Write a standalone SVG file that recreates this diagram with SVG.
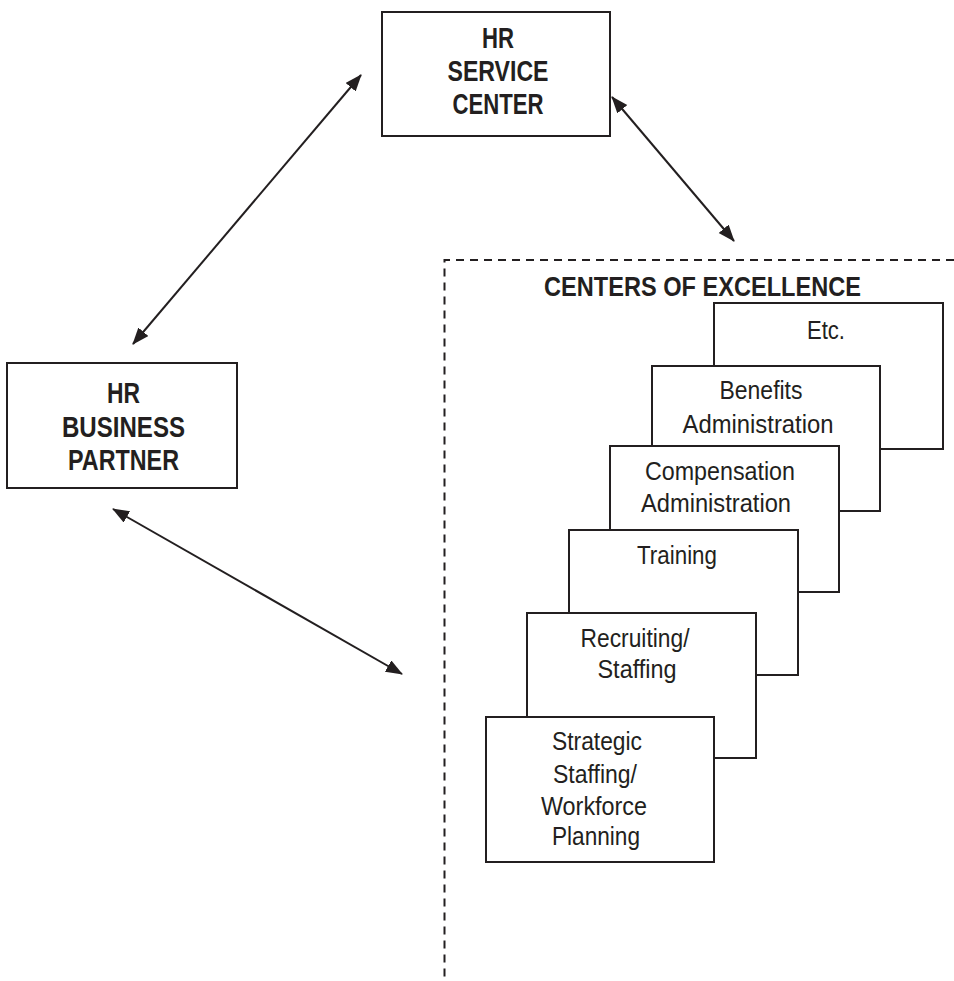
<svg xmlns="http://www.w3.org/2000/svg" width="954" height="981" viewBox="0 0 954 981">
<defs>
<style>
.box{fill:#fff;stroke:#231f20;stroke-width:2}
.hd{font-family:"Liberation Sans",Arial,sans-serif;font-weight:bold;font-size:29px;fill:#231f20;text-anchor:middle}
.tx{font-family:"Liberation Sans",Arial,sans-serif;font-size:25px;fill:#231f20;text-anchor:middle}
.conn{stroke:#231f20;stroke-width:2;fill:none;marker-start:url(#ah);marker-end:url(#ah)}
.dash{stroke:#231f20;stroke-width:2;fill:none;stroke-dasharray:8 6}
</style>
<marker id="ah" markerUnits="userSpaceOnUse" markerWidth="18" markerHeight="14" refX="16" refY="6.5" orient="auto-start-reverse" viewBox="0 0 18 14">
<path d="M0,0 L17,6.5 L0,13 Z" fill="#231f20"/>
</marker>
</defs>
<rect width="954" height="981" fill="#fff"/>

<g id="coe-frame">
<path class="dash" d="M954,260 L444.5,260 L444.5,981"/>
<text class="hd" x="702.5" y="296" textLength="317" lengthAdjust="spacingAndGlyphs" style="font-size:28px">CENTERS OF EXCELLENCE</text>
</g>

<g id="hr-service-center">
<rect class="box" x="382" y="12" width="228" height="124"/>
<text class="hd" x="498" y="48" textLength="32" lengthAdjust="spacingAndGlyphs">HR</text>
<text class="hd" x="498" y="81" textLength="101" lengthAdjust="spacingAndGlyphs">SERVICE</text>
<text class="hd" x="498" y="114" textLength="91" lengthAdjust="spacingAndGlyphs">CENTER</text>
</g>

<g id="hr-business-partner">
<rect class="box" x="7" y="363" width="230" height="125"/>
<text class="hd" x="123.5" y="403" textLength="33" lengthAdjust="spacingAndGlyphs">HR</text>
<text class="hd" x="123.5" y="437" textLength="123" lengthAdjust="spacingAndGlyphs">BUSINESS</text>
<text class="hd" x="123.5" y="470" textLength="111" lengthAdjust="spacingAndGlyphs">PARTNER</text>
</g>

<g id="etc">
<rect class="box" x="714" y="303" width="229" height="146"/>
<text class="tx" x="826" y="339" textLength="38" lengthAdjust="spacingAndGlyphs">Etc.</text>
</g>

<g id="benefits">
<rect class="box" x="652" y="366" width="228" height="145"/>
<text class="tx" x="761" y="399" textLength="83" lengthAdjust="spacingAndGlyphs">Benefits</text>
<text class="tx" x="758" y="433" textLength="151" lengthAdjust="spacingAndGlyphs">Administration</text>
</g>

<g id="compensation">
<rect class="box" x="610" y="446" width="229" height="146"/>
<text class="tx" x="720" y="480" textLength="150" lengthAdjust="spacingAndGlyphs">Compensation</text>
<text class="tx" x="716" y="512" textLength="150" lengthAdjust="spacingAndGlyphs">Administration</text>
</g>

<g id="training">
<rect class="box" x="569" y="530" width="229" height="145"/>
<text class="tx" x="677" y="564" textLength="80" lengthAdjust="spacingAndGlyphs">Training</text>
</g>

<g id="recruiting">
<rect class="box" x="527" y="613" width="229" height="145"/>
<text class="tx" x="635" y="647" textLength="109" lengthAdjust="spacingAndGlyphs">Recruiting/</text>
<text class="tx" x="637" y="678" textLength="79" lengthAdjust="spacingAndGlyphs">Staffing</text>
</g>

<g id="strategic">
<rect class="box" x="486" y="717" width="228" height="145"/>
<text class="tx" x="597" y="750" textLength="90" lengthAdjust="spacingAndGlyphs">Strategic</text>
<text class="tx" x="595" y="783" textLength="84" lengthAdjust="spacingAndGlyphs">Staffing/</text>
<text class="tx" x="594" y="815" textLength="106" lengthAdjust="spacingAndGlyphs">Workforce</text>
<text class="tx" x="596" y="845" textLength="88" lengthAdjust="spacingAndGlyphs">Planning</text>
</g>

<g id="connectors">
<line class="conn" x1="133" y1="344" x2="361" y2="75"/>
<line class="conn" x1="612" y1="97" x2="734" y2="241"/>
<line class="conn" x1="113" y1="509" x2="402" y2="674"/>
</g>
</svg>
